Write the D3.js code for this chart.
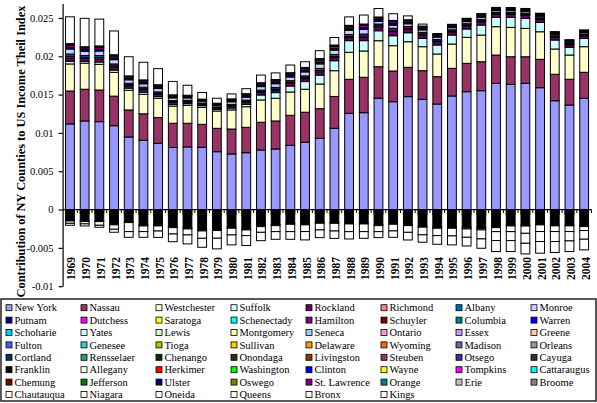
<!DOCTYPE html>
<html>
<head>
<meta charset="utf-8">
<script src="https://cdn.jsdelivr.net/npm/d3@7"></script>
<style>
  html, body { margin: 0; padding: 0; background: #fff; }
  svg { display: block; }
  text { font-family: "Liberation Serif", "Times New Roman", serif; fill: #000; }
</style>
</head>
<body>
<svg id="chart" width="597" height="403"></svg>
<script>
// Contribution of New York counties to the US income Theil index, 1969-2004.
// All series values are in units of 1e-5 (0.001 = 100).
const years = d3.range(1969, 2005);

const counties = [
  "New York","Nassau","Westchester","Suffolk","Rockland","Richmond","Albany","Monroe",
  "Putnam","Dutchess","Saratoga","Schenectady","Hamilton","Schuyler","Columbia","Warren",
  "Schoharie","Yates","Lewis","Montgomery","Seneca","Ontario","Essex","Greene",
  "Fulton","Genesee","Tioga","Sullivan","Delaware","Wyoming","Madison","Orleans",
  "Cortland","Rensselaer","Chenango","Onondaga","Livingston","Steuben","Otsego","Cayuga",
  "Franklin","Allegany","Herkimer","Washington","Clinton","Wayne","Tompkins","Cattaraugus",
  "Chemung","Jefferson","Ulster","Oswego","St. Lawrence","Orange","Erie","Broome",
  "Chautauqua","Niagara","Oneida","Queens","Bronx","Kings"
];

const countyColors = [
  "#9999FF","#993366","#FFFFCC","#CCFFFF","#660066","#FF8080","#0066CC","#CCCCFF",
  "#000080","#FF00FF","#FFFF00","#00FFFF","#800080","#800000","#008080","#0000FF",
  "#00CCFF","#CCFFFF","#CCFFCC","#FFFF99","#99CCFF","#FF99CC","#CC99FF","#FFCC99",
  "#3366FF","#33CCCC","#99CC00","#FFCC00","#FF9900","#FF6600","#666699","#969696",
  "#003366","#339966","#003300","#333300","#993300","#993366","#333399","#333333",
  "#000000","#FFFFFF","#FF0000","#00FF00","#0000FF","#FFFF00","#FF00FF","#00FFFF",
  "#800000","#008000","#000080","#808000","#800080","#008080","#C0C0C0","#808080",
  "#FFFFFF","#FFFFFF","#FFFFFF","#FFFFFF","#FFFFFF","#FFFFFF"
];

// Positive contributors
const newYork     = [1117,1156,1147,1094,947,904,865,810,817,812, 755,725,742,777,790,839,878,930,1060,1256, 1264,1452,1407,1473,1438,1377,1482,1538,1551,1647, 1634,1647,1590,1420,1364,1452];
const nassau      = [430,414,413,386,353,346,335,316,309,300, 305,326,331,362,366,391,392,386,416,444, 462,412,401,383,374,357,361,370,378,369, 360,347,370,345,336,339];
const westchester = [353,340,335,310,256,254,252,224,234,222, 226,249,269,291,296,304,300,322,336,352, 343,339,330,334,313,296,317,339,348,370, 383,370,360,330,316,334];
const suffolk     = [35,25,30,30,28,28,22,22,22,22, 22,24,30,65,74,78,100,117,130,152, 135,130,130,117,109,117,117,109,130,122, 130,130,122,117,100,109];
const rockland    = [45,38,42,40,32,33,31,25,22,17, 16,24,28,32,34,35,37,43,41,40, 43,50,56,48,45,42,40,41,44,40, 39,40,37,34,31,34];
const richmond    = [20,15,17,16,13,12,12,10,9,7, 6,10,11,13,14,14,15,17,16,16, 17,16,18,15,14,13,12,12,13,11, 11,11,10,9,8,9];
const albany      = [30,22,25,24,19,20,19,15,13,10, 10,14,17,19,20,21,22,26,25,24, 26,22,24,20,19,18,17,16,18,15, 15,15,14,13,12,13];
const monroe      = [65,55,60,56,45,44,43,35,31,24, 22,34,39,45,48,48,52,60,57,56, 61,36,40,34,32,30,27,27,28,22, 23,22,20,18,17,18];
const putnam      = [25,22,24,24,19,19,18,15,13,10, 10,14,17,19,20,21,22,26,25,24, 26,22,24,20,19,18,17,17,18,16, 16,16,15,14,13,14];
const dutchess    = [20,18,20,20,16,16,16,13,11,9, 8,12,14,16,17,17,19,22,21,20, 22,18,20,17,16,15,14,14,15,14, 14,14,13,12,11,12];
const saratoga    = [12,10,11,10,8,8,8,6,6,4, 4,6,7,8,9,9,9,11,10,10, 11,8,9,8,8,7,7,7,7,6, 6,6,6,5,4,5];
const schenectady = [13,10,11,10,8,8,8,6,5,4, 4,6,7,8,8,9,9,10,10,10, 11,8,9,8,7,7,6,6,7,6, 6,6,5,5,4,5];

// Negative contributors (upstate)
const cortland = [-10,-10,-10,-12,-11,-12,-12,-13,-13,-14, -14,-13,-14,-12,-12,-11,-12,-11,-11,-11, -11,-12,-11,-12,-13,-13,-13,-13,-13,-13, -12,-12,-12,-12,-12,-12];
const chenango = [-9,-9,-9,-11,-10,-11,-11,-12,-12,-13, -13,-12,-13,-11,-11,-10,-11,-10,-10,-10, -10,-11,-10,-11,-12,-12,-12,-12,-12,-12, -11,-11,-11,-11,-11,-11];
const onondaga = [-12,-13,-13,-15,-14,-16,-16,-17,-18,-19, -19,-17,-18,-16,-15,-14,-15,-14,-14,-14, -14,-15,-14,-15,-16,-16,-16,-16,-17,-16, -15,-15,-15,-15,-15,-16];
const otsego   = [-8,-8,-8,-10,-9,-10,-10,-11,-11,-12, -12,-11,-12,-10,-10,-9,-10,-9,-9,-9, -9,-10,-9,-10,-11,-11,-11,-11,-11,-11, -10,-10,-10,-10,-10,-10];
const cayuga   = [-11,-12,-12,-14,-13,-15,-15,-16,-17,-18, -18,-16,-17,-15,-14,-13,-14,-13,-13,-13, -13,-14,-13,-14,-15,-15,-15,-15,-16,-15, -14,-14,-14,-14,-14,-15];
const franklin = [-89,-94,-94,-125,-101,-136,-136,-152,-166,-186, -181,-160,-176,-145,-135,-123,-125,-110,-111,-119, -119,-135,-123,-135,-149,-155,-153,-157,-164,-155, -139,-140,-125,-138,-138,-144];
const ulster   = [-10,-11,-11,-13,-12,-14,-14,-15,-16,-17, -17,-15,-16,-14,-13,-12,-13,-12,-12,-12, -12,-13,-12,-13,-14,-14,-14,-14,-15,-14, -13,-13,-13,-13,-13,-14];

// New York City boroughs
const queens = [350,370,350,310,250,230,210,175,130,87, 65,65,65,100,87,100,74,103,98,110, 117,110,87,50,26,-8,-10,-15,-18,-52, -74,-95,-87,-74,-74,-52];
const bronx  = [-30,-30,-48,-57,-118,-74,-66,-83,-78,-96, -100,-87,-74,-74,-78,-96,-87,-87,-100,-100, -100,-78,-87,-87,-100,-96,-100,-109,-117,-117, -117,-130,-130,-130,-122,-113];
const kings  = [-26,-27,-26,-39,-74,-74,-83,-100,-117,-117, -139,-130,-130,-109,-100,-100,-109,-100,-96,-96, -87,-78,-83,-100,-96,-113,-117,-113,-122,-143, -143,-139,-152,-143,-139,-139];

const seriesByCounty = {
  "New York": newYork, "Nassau": nassau, "Westchester": westchester, "Suffolk": suffolk,
  "Rockland": rockland, "Richmond": richmond, "Albany": albany, "Monroe": monroe,
  "Putnam": putnam, "Dutchess": dutchess, "Saratoga": saratoga, "Schenectady": schenectady,
  "Cortland": cortland, "Chenango": chenango, "Onondaga": onondaga, "Otsego": otsego,
  "Cayuga": cayuga, "Franklin": franklin, "Ulster": ulster,
  "Queens": queens, "Bronx": bronx, "Kings": kings
};

const yTicks = [-0.01, -0.005, 0, 0.005, 0.01, 0.015, 0.02, 0.025];
const yTitle = "Contribution of NY Counties to US Income Theil Index";
const UNIT = 1e-5;

// ---- layout ----
const svg = d3.select("#chart");
svg.append("rect").attr("width", 597).attr("height", 403).attr("fill", "#fff");

const x = d3.scaleBand().domain(years).range([62.6, 591.5]).paddingInner(0.4).paddingOuter(0.2);
const y = d3.scaleLinear().domain([-0.01, 0.0269]).range([286.2, 3.4]);
const color = d3.scaleOrdinal().domain(counties).range(countyColors);

// stacked table: one row per year, one column per county with data
const keys = counties.filter(c => seriesByCounty[c]);
const table = years.map((yr, i) => {
  const row = { year: yr };
  keys.forEach(k => { row[k] = seriesByCounty[k][i] * UNIT; });
  return row;
});
const stacked = d3.stack().keys(keys).order(d3.stackOrderNone).offset(d3.stackOffsetDiverging)(table);

const bars = svg.append("g");
stacked.forEach(layer => {
  bars.append("g")
    .attr("fill", color(layer.key))
    .selectAll("rect")
    .data(layer.filter(d => d[1] !== d[0]))
    .join("rect")
      .attr("x", d => x(d.data.year))
      .attr("width", x.bandwidth())
      .attr("y", d => y(Math.max(d[0], d[1])))
      .attr("height", d => Math.abs(y(d[0]) - y(d[1])))
      .attr("stroke", "#000")
      .attr("stroke-width", 1);
});

// y axis
const yAxis = svg.append("g")
  .attr("transform", "translate(62.6,0)")
  .call(d3.axisLeft(y).tickValues(yTicks).tickSize(4).tickSizeOuter(0).tickPadding(5).tickFormat(d => String(d)));
yAxis.select(".domain").attr("stroke", "#000").attr("stroke-width", 1.2);
yAxis.selectAll(".tick line").attr("stroke", "#000").attr("stroke-width", 1.2);
yAxis.selectAll(".tick text").attr("font-family", "Liberation Serif").attr("font-size", 10.5).attr("fill", "#000");

// category axis along zero
const y0 = y(0);
const step = x.step();
svg.append("line")
  .attr("x1", x.range()[0]).attr("x2", x.range()[1])
  .attr("y1", y0).attr("y2", y0)
  .attr("stroke", "#000").attr("stroke-width", 1.2);
svg.append("g").selectAll("line")
  .data(years.slice(1).concat([null]))
  .join("line")
    .attr("x1", (d, i) => x.range()[0] + (i + 1) * step)
    .attr("x2", (d, i) => x.range()[0] + (i + 1) * step)
    .attr("y1", y0).attr("y2", y0 + 3.5)
    .attr("stroke", "#000").attr("stroke-width", 1);

// year labels
svg.append("g").selectAll("text")
  .data(years)
  .join("text")
    .attr("transform", d => `translate(${x(d) + x.bandwidth() / 2 + 1.5},257) rotate(-90)`)
    .attr("text-anchor", "end")
    .attr("dy", "0.35em")
    .attr("font-size", 11.5)
    .attr("font-weight", "bold")
    .text(d => d);

// axis title
svg.append("text")
  .attr("transform", "translate(25,151.5) rotate(-90)")
  .attr("text-anchor", "middle")
  .attr("font-size", 12.4)
  .attr("font-weight", "bold")
  .text(yTitle);

// legend
const lg = svg.append("g");
lg.append("rect")
  .attr("x", 1).attr("y", 299).attr("width", 595).attr("height", 102)
  .attr("fill", "#fff").attr("stroke", "#222").attr("stroke-width", 1.5);
const items = lg.selectAll("g.item")
  .data(counties)
  .join("g")
    .attr("class", "item")
    .attr("transform", (d, i) => `translate(${6 + 75 * (i % 8)},${307.7 + 12.4 * Math.floor(i / 8)})`);
items.append("rect")
  .attr("x", 0).attr("y", -3).attr("width", 6).attr("height", 6)
  .attr("fill", d => color(d)).attr("stroke", "#000").attr("stroke-width", 0.8);
items.append("text")
  .attr("x", 8.5).attr("y", 3.6)
  .attr("font-size", 10.5)
  .text(d => d);
</script>
</body>
</html>
